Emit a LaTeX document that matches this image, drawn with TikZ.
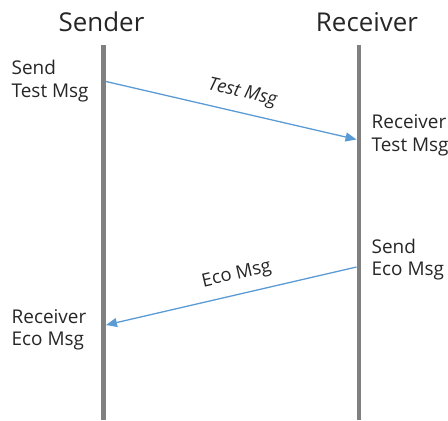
\documentclass[tikz,border=0pt]{standalone}
\usepackage{fontspec}
\setmainfont{Open Sans}
\usetikzlibrary{arrows.meta}
\definecolor{lifegray}{HTML}{808080}
\definecolor{msgblue}{HTML}{5B9BD5}
\definecolor{txt}{HTML}{262626}
\begin{document}
\begin{tikzpicture}[x=1bp,y=-1bp,
  lifeline/.style={draw=lifegray,line width=4.5bp},
  msg/.style={draw=msgblue,line width=1.3bp,-{Triangle[length=11bp,width=9bp]}},
  title/.style={font=\fontsize{26}{30}\selectfont,text=txt,inner sep=0pt},
  note/.style={font=\fontsize{19}{22.5}\selectfont,text=txt,inner sep=0pt,align=left},
  mlabel/.style={font=\fontsize{18.5}{20}\selectfont,text=txt,inner sep=0pt}]
\useasboundingbox (0,0) rectangle (448,420);
\node[title,anchor=base] (sender) at (101.5,31.7) {Sender};
\node[title,anchor=base] (receiver) at (367,31.7) {Receiver};
\coordinate (sTop) at (103.5,45);
\coordinate (sBot) at (103.5,420);
\coordinate (rTop) at (359,45);
\coordinate (rBot) at (359,420);
\draw[lifeline] (sTop) -- (sBot);
\draw[lifeline] (rTop) -- (rBot);
\coordinate (m1s) at (106,81.5);
\coordinate (m1e) at (356.5,139.5);
\coordinate (m2s) at (356.5,267);
\coordinate (m2e) at (106,325);
\draw[msg] (m1s) -- node[mlabel,sloped,above=10bp,pos=0.527,font=\itshape\fontsize{18.5}{20}\selectfont] (l1) {Test Msg} (m1e);
\draw[msg] (m2s) -- node[mlabel,sloped,above=10bp,pos=0.461] (l2) {Eco Msg} (m2e);
\node[note,anchor=base west] (n1) at (11.5,97.3) {Send\\Test Msg};
\node[note,anchor=base west] (n2) at (371.5,151) {Receiver\\Test Msg};
\node[note,anchor=base west] (n3) at (371.5,275.7) {Send\\Eco Msg};
\node[note,anchor=base west] (n4) at (11.5,345.7) {Receiver\\Eco Msg};
\end{tikzpicture}
\end{document}
